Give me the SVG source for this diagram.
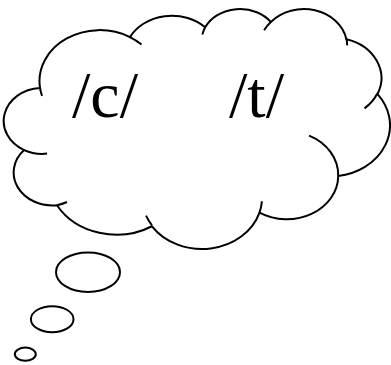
<svg xmlns="http://www.w3.org/2000/svg" width="391" height="365" viewBox="0 0 391 365">
  <style>
    .ln { fill: none; stroke: #000; stroke-width: 2; vector-effect: non-scaling-stroke; }
    .body { fill: #fff; stroke: #000; stroke-width: 2; vector-effect: non-scaling-stroke; stroke-linejoin: round; }
    .bub { fill: #fff; stroke: #000; stroke-width: 2; }
    .lbl { font-family: "Liberation Serif", "Times New Roman", serif; font-size: 66px; fill: #000; }
  </style>
  <g id="cloud">
    <g transform="matrix(0.0089005 0 0 0.0055533 5.32 8.22)">
      <path class="body" d="M 3900 14370 A 6753 9190 0 0 1 14005 5202 A 5333 7267 0 0 1 22456 3432 A 4365 5945 0 0 1 29833 2480 A 4857 6595 0 0 1 38318 5576 A 5333 7273 0 0 1 41818 15459 A 6775 9220 0 0 1 37404 30203 A 5785 7867 0 0 1 28556 36813 A 6752 9215 0 0 1 16480 39264 A 7720 10543 0 0 1 5805 35470 A 4360 5918 0 0 1 2114 25548 A 4345 5945 0 0 1 3900 14370 Z"/>
      <path class="ln" d="M 4127 15789 A 6753 9190 0 0 1 3900 14370 M 14000 5192 A 6753 9190 0 0 1 15305 6550 M 22141 4720 A 4365 5945 0 0 1 22456 3432 M 29078 3952 A 4857 6595 0 0 1 29833 2480 M 38324 5426 A 4857 6595 0 0 1 38400 6690 M 41798 15354 A 5333 7273 0 0 1 40350 18030 M 34129 22954 A 5785 7867 0 0 1 37404 30203 M 28827 34751 A 6752 9215 0 0 1 28556 36813 M 16478 39090 A 6752 9215 0 0 1 15810 37350 M 6928 34899 A 4360 5918 0 0 1 5805 35470 M 4693 26177 A 4345 5945 0 0 1 2114 25548"/>
    </g>
    <text class="lbl" x="72" y="116.5">/c/</text>
    <text class="lbl" x="229" y="116.5">/t/</text>
  </g>
  <g id="bubble1"><ellipse class="bub" cx="88" cy="272.2" rx="32" ry="19.8"/></g>
  <g id="bubble2"><ellipse class="bub" cx="52.2" cy="319.2" rx="21.3" ry="13"/></g>
  <g id="bubble3"><ellipse class="bub" cx="25.3" cy="354.2" rx="10.5" ry="6.6"/></g>
</svg>
